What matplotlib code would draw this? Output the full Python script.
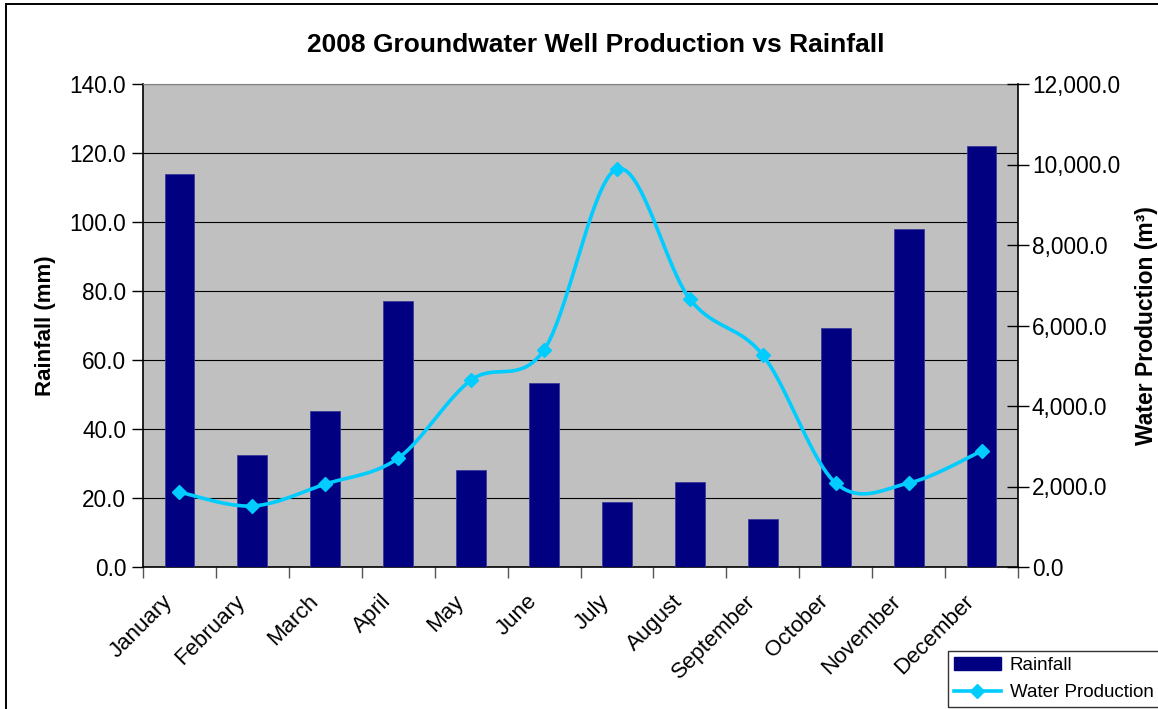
import numpy as np
import matplotlib
matplotlib.use("Agg")
import matplotlib.pyplot as plt
import matplotlib.transforms as mtransforms
from matplotlib.patches import Rectangle, Patch
from matplotlib.lines import Line2D
from matplotlib.ticker import FuncFormatter, FixedLocator, NullFormatter

months = ["January", "February", "March", "April", "May", "June", "July",
          "August", "September", "October", "November", "December"]
rainfall = [114.0, 32.6, 45.1, 77.0, 28.0, 53.2, 18.7, 24.5, 13.8, 69.2, 98.0, 122.0]
water_production = [1860, 1515, 2060, 2705, 4645, 5395, 9890, 6655, 5265, 2085, 2085, 2880]

rain_ticks = [0, 20, 40, 60, 80, 100, 120, 140]
water_ticks = [0, 2000, 4000, 6000, 8000, 10000, 12000]

plt.rcParams['font.family'] = ['Liberation Sans', 'DejaVu Sans']

W, H = 1158, 709
fig = plt.figure(figsize=(W / 100, H / 100), dpi=100)
fig.patch.set_facecolor("white")

# outer chart border
fig.patches.append(Rectangle((6 / W, -0.05), 1.2, 1 - 4 / H + 0.05, transform=fig.transFigure,
                             fill=False, edgecolor="black", linewidth=1.4, zorder=0))

L, R, B, T = 143 / W, 1018 / W, 1 - 567 / H, 1 - 84 / H
ax = fig.add_axes([L, B, R - L, T - B])
ax.set_facecolor("#C0C0C0")

x = np.arange(len(months))
ax.bar(x, rainfall, width=0.41, color="#000080", edgecolor="#3a3a9a", linewidth=0.6, zorder=3)

ax.set_xlim(-0.5, len(months) - 0.5)
ax.set_ylim(0, 140)
ax.set_yticks(rain_ticks)
ax.yaxis.set_major_formatter(FuncFormatter(lambda v, p: f"{v:.1f}"))
ax.grid(axis="y", color="black", linewidth=0.8, zorder=1)
ax.set_axisbelow(True)

ax.xaxis.set_major_locator(FixedLocator(np.arange(-0.5, len(months), 1.0)))
ax.xaxis.set_major_formatter(NullFormatter())
ax.tick_params(axis="x", which="major", direction="out", length=8, width=1, color="#555555")
ax.tick_params(axis="y", direction="out", length=8, width=1, labelsize=16.3, pad=4)

# category labels, rotated 45 degrees
offset = mtransforms.ScaledTranslation(-18 / 100, -24 / 100, fig.dpi_scale_trans)
for xi, m in zip(x, months):
    ax.text(xi, 0, m, transform=ax.get_xaxis_transform() + offset, rotation=45,
            rotation_mode="anchor", ha="right", va="top", fontsize=16, clip_on=False)

for s in ["left", "bottom"]:
    ax.spines[s].set_color("black")
    ax.spines[s].set_linewidth(1.2)
ax.spines["top"].set_color("#808080")
ax.spines["right"].set_color("black")
ax.spines["right"].set_linewidth(1.2)

ax.set_ylabel("Rainfall (mm)", fontsize=16, fontweight="bold", labelpad=10)

ax2 = ax.twinx()
ax2.set_ylim(0, 12000)
ax2.set_yticks(water_ticks)
ax2.yaxis.set_major_formatter(FuncFormatter(lambda v, p: f"{v:,.1f}"))
ax2.tick_params(axis="y", direction="inout", length=16, width=1, labelsize=16.3, pad=2)
ax2.set_ylabel("Water Production (m³)", fontsize=16.5, fontweight="bold", labelpad=11)
for s in ax2.spines.values():
    s.set_visible(False)

# Excel-style smoothed line (Bezier through points, Catmull-Rom control points)
pts = np.column_stack([x, water_production]).astype(float)
ext = np.vstack([pts[0], pts, pts[-1]])
curve = []
tt = np.linspace(0, 1, 40)
for i in range(len(pts) - 1):
    p0 = ext[i + 1]
    p3 = ext[i + 2]
    c1 = p0 + (ext[i + 2] - ext[i]) / 6.0
    c2 = p3 - (ext[i + 3] - ext[i + 1]) / 6.0
    seg = ((1 - tt) ** 3)[:, None] * p0 + (3 * (1 - tt) ** 2 * tt)[:, None] * c1 \
        + (3 * (1 - tt) * tt ** 2)[:, None] * c2 + (tt ** 3)[:, None] * p3
    curve.append(seg)
curve = np.vstack(curve)
line_color = "#00CCFF"
ax2.plot(curve[:, 0], curve[:, 1], color=line_color, linewidth=2.6, zorder=4,
         solid_capstyle="round")
ax2.plot(x, water_production, linestyle="none", marker="D", markersize=7,
         color=line_color, zorder=5)

fig.text(596 / W, 1 - 45 / H, "2008 Groundwater Well Production vs Rainfall",
         ha="center", va="center", fontsize=19, fontweight="bold")

handles = [Patch(facecolor="#000080", edgecolor="#000080"),
           Line2D([0], [0], color=line_color, linewidth=2.6, marker="D", markersize=7)]
leg = fig.legend(handles, ["Rainfall", "Water Production"], loc="upper left",
                 bbox_to_anchor=(948 / W, 1 - 651 / H), fontsize=13.5, frameon=True,
                 fancybox=False, edgecolor="black", borderpad=0.3, handlelength=2.5,
                 handletextpad=0.5, labelspacing=0.55, borderaxespad=0)
leg.get_frame().set_linewidth(1.0)

fig.savefig("out.png", dpi=100)
